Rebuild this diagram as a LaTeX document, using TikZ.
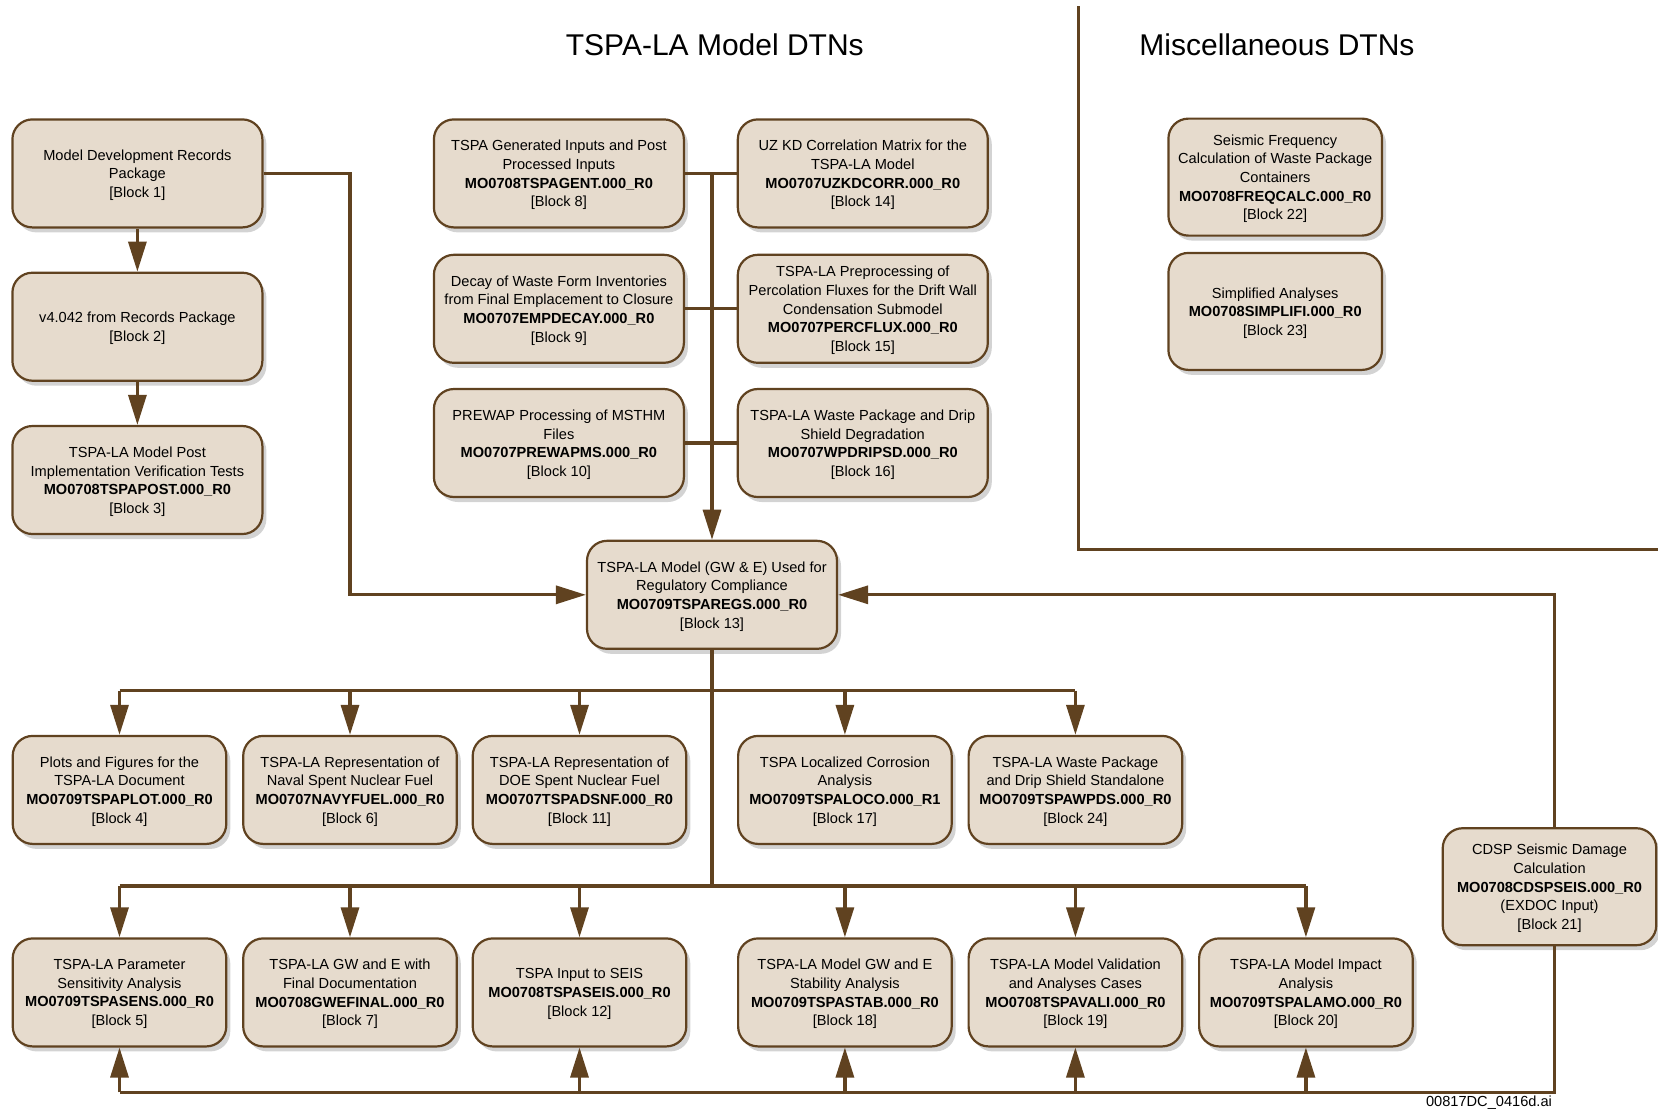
\documentclass[tikz,border=0pt]{standalone}
\usepackage{fontspec}
\setmainfont{Liberation Sans}
\usetikzlibrary{arrows.meta,shadows}

\begin{document}
\begin{tikzpicture}[
  x=0.5pt, y=-0.5pt,
  every node/.style={font=\fontsize{7.3}{9.3}\selectfont},
  blk/.style={draw=boxedge, fill=boxfill, line width=1.1pt,
    rounded corners=10pt, align=center, inner sep=0pt,
    minimum height=54pt, text depth=-1.6pt,
    drop shadow={shadow xshift=2pt, shadow yshift=-2.5pt, opacity=0.35}},
  wide/.style={blk, minimum width=125pt},
  narrow/.style={blk, minimum width=106.8pt},
  tall/.style={narrow, minimum height=58.5pt},
  low/.style={text depth=-4.4pt},
  link/.style={draw=linkbrown, line width=1.6pt},
  feed/.style={link, -{Triangle[length=15pt,width=9pt]}},
  heading/.style={font=\fontsize{15}{18}\selectfont},
]

\definecolor{boxfill}{RGB}{230,219,205}
\definecolor{boxedge}{RGB}{96,66,32}
\definecolor{linkbrown}{RGB}{96,66,32}

\useasboundingbox (0,0) rectangle (1658,1116);

% ============================================================
% HEADINGS AND DIVIDER
% ============================================================
\node[heading] (hmodel) at (714.8,44.4) {TSPA-LA Model DTNs};
\node[heading] (hmisc)  at (1277,44.4)  {Miscellaneous DTNs};
\draw[link] (1078.5,6) -- (1078.5,549.8) -- (1660,549.8);

% ============================================================
% LEFT COLUMN (records package chain)
% ============================================================
\node[wide, low] (b1) at (137.4,173.4)
  {Model Development Records\\Package\\{}[Block 1]};
\node[wide] (b2) at (137.4,326.7)
  {v4.042 from Records Package\\{}[Block 2]};
\node[wide] (b3) at (137.4,480)
  {TSPA-LA Model Post\\Implementation Verification Tests\\
   \textbf{MO0708TSPAPOST.000\_R0}\\{}[Block 3]};

% ============================================================
% INPUT BLOCKS (two columns)
% ============================================================
\node[wide] (b8) at (558.9,173.4)
  {TSPA Generated Inputs and Post\\Processed Inputs\\
   \textbf{MO0708TSPAGENT.000\_R0}\\{}[Block 8]};
\node[wide] (b9) at (558.9,308.8)
  {Decay of Waste Form Inventories\\from Final Emplacement to Closure\\
   \textbf{MO0707EMPDECAY.000\_R0}\\{}[Block 9]};
\node[wide] (b10) at (558.9,443)
  {PREWAP Processing of MSTHM\\Files\\
   \textbf{MO0707PREWAPMS.000\_R0}\\{}[Block 10]};
\node[wide] (b14) at (862.8,173.4)
  {UZ KD Correlation Matrix for the\\TSPA-LA Model\\
   \textbf{MO0707UZKDCORR.000\_R0}\\{}[Block 14]};
\node[wide] (b15) at (862.8,308.8)
  {TSPA-LA Preprocessing of\\Percolation Fluxes for the Drift Wall\\
   Condensation Submodel\\\textbf{MO0707PERCFLUX.000\_R0}\\{}[Block 15]};
\node[wide] (b16) at (862.8,443)
  {TSPA-LA Waste Package and Drip\\Shield Degradation\\
   \textbf{MO0707WPDRIPSD.000\_R0}\\{}[Block 16]};

% central model
\node[wide] (b13) at (712,594.8)
  {TSPA-LA Model (GW \& E) Used for\\Regulatory Compliance\\
   \textbf{MO0709TSPAREGS.000\_R0}\\{}[Block 13]};

% ============================================================
% MISCELLANEOUS
% ============================================================
\node[tall] (b22) at (1275.2,177.1)
  {Seismic Frequency\\Calculation of Waste Package\\Containers\\
   \textbf{MO0708FREQCALC.000\_R0}\\{}[Block 22]};
\node[tall] (b23) at (1275.2,311.4)
  {Simplified Analyses\\\textbf{MO0708SIMPLIFI.000\_R0}\\{}[Block 23]};
\node[tall, low] (b21) at (1549.5,886.7)
  {CDSP Seismic Damage\\Calculation\\
   \textbf{MO0708CDSPSEIS.000\_R0}\\(EXDOC Input)\\{}[Block 21]};

% ============================================================
% OUTPUT ROWS
% ============================================================
\node[narrow] (b4) at (119.5,789.9)
  {Plots and Figures for the\\TSPA-LA Document\\
   \textbf{MO0709TSPAPLOT.000\_R0}\\{}[Block 4]};
\node[narrow] (b6) at (350,789.9)
  {TSPA-LA Representation of\\Naval Spent Nuclear Fuel\\
   \textbf{MO0707NAVYFUEL.000\_R0}\\{}[Block 6]};
\node[narrow] (b11) at (579.5,789.9)
  {TSPA-LA Representation of\\DOE Spent Nuclear Fuel\\
   \textbf{MO0707TSPADSNF.000\_R0}\\{}[Block 11]};
\node[narrow] (b17) at (844.9,789.9)
  {TSPA Localized Corrosion\\Analysis\\
   \textbf{MO0709TSPALOCO.000\_R1}\\{}[Block 17]};
\node[narrow] (b24) at (1075.4,789.9)
  {TSPA-LA Waste Package\\and Drip Shield Standalone\\
   \textbf{MO0709TSPAWPDS.000\_R0}\\{}[Block 24]};

\node[narrow, low] (b5) at (119.5,992.4)
  {TSPA-LA Parameter\\Sensitivity Analysis\\
   \textbf{MO0709TSPASENS.000\_R0}\\{}[Block 5]};
\node[narrow, low] (b7) at (350,992.4)
  {TSPA-LA GW and E with\\Final Documentation\\
   \textbf{MO0708GWEFINAL.000\_R0}\\{}[Block 7]};
\node[narrow, low] (b12) at (579.5,992.4)
  {TSPA Input to SEIS\\\textbf{MO0708TSPASEIS.000\_R0}\\{}[Block 12]};
\node[narrow, low] (b18) at (844.9,992.4)
  {TSPA-LA Model GW and E\\Stability Analysis\\
   \textbf{MO0709TSPASTAB.000\_R0}\\{}[Block 18]};
\node[narrow, low] (b19) at (1075.4,992.4)
  {TSPA-LA Model Validation\\and Analyses Cases\\
   \textbf{MO0708TSPAVALI.000\_R0}\\{}[Block 19]};
\node[narrow, low] (b20) at (1305.9,992.4)
  {TSPA-LA Model Impact\\Analysis\\
   \textbf{MO0709TSPALAMO.000\_R0}\\{}[Block 20]};

\node (tag) at (1489,1103) {00817DC\_0416d.ai};

% ============================================================
% CONNECTORS
% ============================================================
\coordinate (turn) at (350,0);
\coordinate (busA) at (0,690.5);
\coordinate (busB) at (0,886);
\coordinate (busC) at (0,1092.3);

\draw[feed] (b1) -- (b2);
\draw[feed] (b2) -- (b3);
\draw[feed] (b1.east) -| (turn |- b13.west) -- (b13.west);

% inputs collect on the middle trunk
\draw[link] (b8.east) -- (b14.west);
\draw[link] (b9.east) -- (b15.west);
\draw[link] (b10.east) -- (b16.west);
\draw[feed] (b8.east -| b13.north) -- (b13.north);

% seismic damage line sits a little right of centre
\draw[feed] ([xshift=2.3pt]b21.north) |- (b13.east);

% outputs fan out from block 13
\draw[link] (b13.south) -- (b13.south |- busB);
\draw[link] (b4.north |- busA) -- (b24.north |- busA);
\draw[link] (b5.north |- busB) -- (b20.north |- busB);
\foreach \n in {b4,b6,b11,b17,b24}
  \draw[feed] (\n.north |- busA) -- (\n.north);
\foreach \n in {b5,b7,b12,b18,b19,b20}
  \draw[feed] (\n.north |- busB) -- (\n.north);

% seismic damage return line
\draw[link] ([xshift=2.3pt]b21.south) |- (b5.south |- busC);
\foreach \n in {b5,b12,b18,b19,b20}
  \draw[feed] (\n.south |- busC) -- (\n.south);

\end{tikzpicture}
\end{document}
